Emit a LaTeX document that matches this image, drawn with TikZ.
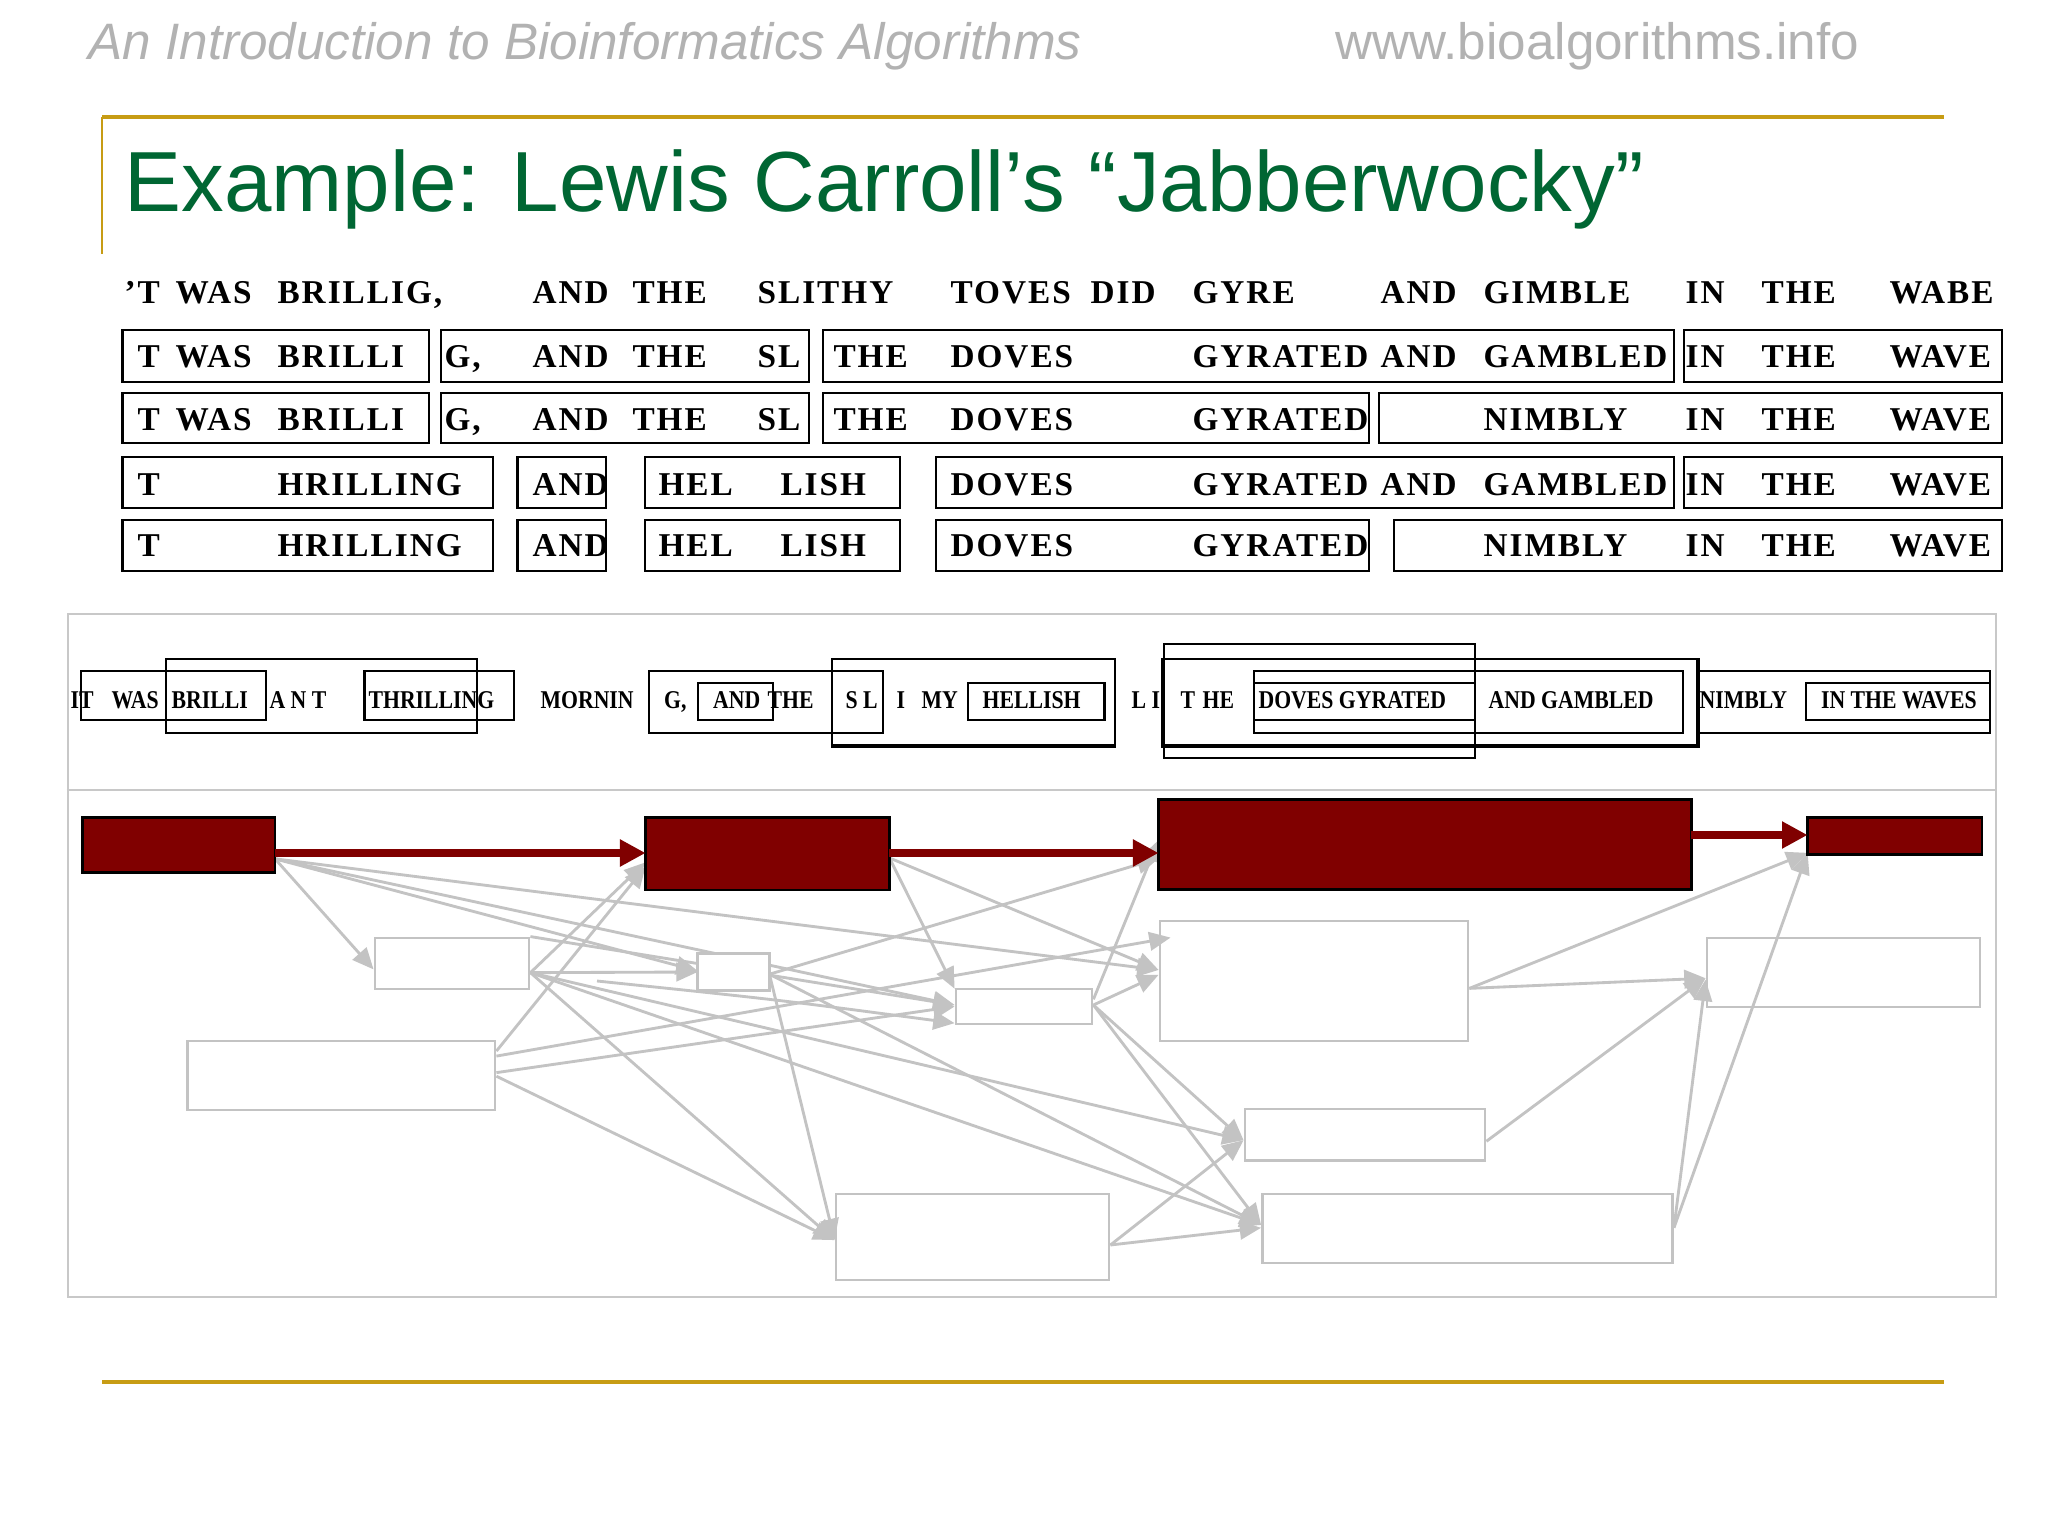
\documentclass[tikz,border=0pt]{standalone}
\usepackage{fontspec}
\setmainfont{Liberation Sans}
\newfontfamily\rowfont[LetterSpace=6]{Liberation Serif}
\newfontfamily\condfont[FakeStretch=0.85]{Liberation Serif}
\usetikzlibrary{arrows.meta,fit,calc}
\definecolor{gold}{RGB}{199,156,20}
\definecolor{titlegreen}{RGB}{0,102,51}
\definecolor{hdrgray}{RGB}{178,178,178}
\definecolor{darkred}{RGB}{128,0,0}
\definecolor{lgray}{RGB}{195,195,195}
\definecolor{pgray}{RGB}{200,200,200}
\tikzset{
  hdr/.style={anchor=base west, inner sep=0, text=hdrgray, font=\fontsize{18}{21}\selectfont},
  ttl/.style={anchor=base west, inner sep=0, text=titlegreen, font=\fontsize{30}{36}\selectfont},
  wa/.style={anchor=base west, inner sep=0, font=\rowfont\bfseries\fontsize{11.7}{13}\selectfont},
  wb/.style={anchor=base west, inner sep=0, font=\condfont\bfseries\fontsize{9}{10}\selectfont},
  rowbox/.style={draw=black, line width=1pt, inner sep=0},
  abox/.style={draw=black, line width=0.75pt, inner sep=0},
  thickedge/.style={draw=black, line width=1.4pt},
  panelbox/.style={draw=pgray, line width=1pt, inner sep=0},
  redbox/.style={draw=black, fill=darkred, line width=1pt, inner sep=0},
  graybox/.style={draw=lgray, line width=1pt, inner sep=0},
  redarrow/.style={draw=darkred, line width=2.8pt, -{Triangle[length=9pt,width=9pt]}},
  grayarrow/.style={draw=lgray, line width=1pt, -{Triangle[length=7.5pt,width=6.5pt]}},
}
\newcommand\wa[4]{\node[wa] (#1) at (#2,#3) {#4};}
\newcommand\wb[3]{\node[wb] (#1) at (#2,708) {#3};}
\newcommand\rb[5]{\node[rowbox, fit={(#2,#3) (#4,#5)}] (#1) {};}
\newcommand\ab[5]{\node[abox, fit={(#2,#3) (#4,#5)}] (#1) {};}
\begin{document}
\begin{tikzpicture}[x=0.3515625pt, y=-0.3515625pt]
\useasboundingbox (0,0) rectangle (2048,1536);
\fill[white] (0,0) rectangle (2048,1536);

% header and title
\node[hdr, font=\fontsize{18}{21}\selectfont\itshape] (hdrl) at (88,60) {An Introduction to Bioinformatics Algorithms};
\node[hdr] (hdrr) at (1335,60) {www.bioalgorithms.info};
\draw[gold, line width=1.4pt] (102,117) -- (1944,117);
\draw[gold, line width=0.7pt] (102,117) -- (102,254);
\node[ttl] (title) at (124,212) {Example: Lewis Carroll’s “Jabberwocky”};
\draw[gold, line width=1.4pt] (102,1382) -- (1944,1382);

% row 0
\wa{r0a}{124}{303.5}{’T}
\wa{r0b}{175}{303.5}{WAS}
\wa{r0c}{277}{303.5}{BRILLIG,}
\wa{r0d}{532}{303.5}{AND}
\wa{r0e}{632}{303.5}{THE}
\wa{r0f}{757}{303.5}{SLITHY}
\wa{r0g}{950}{303.5}{TOVES}
\wa{r0h}{1090}{303.5}{DID}
\wa{r0i}{1192}{303.5}{GYRE}
\wa{r0j}{1380}{303.5}{AND}
\wa{r0k}{1483}{303.5}{GIMBLE}
\wa{r0l}{1685}{303.5}{IN}
\wa{r0m}{1761}{303.5}{THE}
\wa{r0n}{1889}{303.5}{WABE}

% row 1
\rb{b11}{122.5}{330}{429}{382}
\rb{b12}{441}{330}{809}{382}
\rb{b13}{823}{330}{1674}{382}
\rb{b14}{1684}{330}{2002}{382}
\wa{r1a}{137}{368}{T}
\wa{r1b}{175}{368}{WAS}
\wa{r1c}{277}{368}{BRILLI}
\wa{r1d}{444}{368}{G,}
\wa{r1e}{532}{368}{AND}
\wa{r1f}{632}{368}{THE}
\wa{r1g}{757}{368}{SL}
\wa{r1h}{833}{368}{THE}
\wa{r1i}{950}{368}{DOVES}
\wa{r1j}{1192}{368}{GYRATED}
\wa{r1k}{1380}{368}{AND}
\wa{r1l}{1483}{368}{GAMBLED}
\wa{r1m}{1685}{368}{IN}
\wa{r1n}{1761}{368}{THE}
\wa{r1o}{1889}{368}{WAVE}

% row 2
\rb{b21}{122.5}{393}{429}{443}
\rb{b22}{441}{393}{809}{443}
\rb{b23}{823}{393}{1369}{443}
\rb{b24}{1379}{393}{2002}{443}
\wa{r2a}{137}{431}{T}
\wa{r2b}{175}{431}{WAS}
\wa{r2c}{277}{431}{BRILLI}
\wa{r2d}{444}{431}{G,}
\wa{r2e}{532}{431}{AND}
\wa{r2f}{632}{431}{THE}
\wa{r2g}{757}{431}{SL}
\wa{r2h}{833}{431}{THE}
\wa{r2i}{950}{431}{DOVES}
\wa{r2j}{1192}{431}{GYRATED}
\wa{r2k}{1483}{431}{NIMBLY}
\wa{r2l}{1685}{431}{IN}
\wa{r2m}{1761}{431}{THE}
\wa{r2n}{1889}{431}{WAVE}

% row 3
\rb{b31}{122.5}{457}{493}{508}
\rb{b32}{517.6}{457}{606}{508}
\rb{b33}{645}{457}{900}{508}
\rb{b34}{936}{457}{1674}{508}
\rb{b35}{1684}{457}{2002}{508}
\wa{r3a}{137}{496}{T}
\wa{r3b}{277}{496}{HRILLING}
\wa{r3c}{532}{496}{AND}
\wa{r3d}{658}{496}{HEL}
\wa{r3e}{780}{496}{LISH}
\wa{r3f}{950}{496}{DOVES}
\wa{r3g}{1192}{496}{GYRATED}
\wa{r3h}{1380}{496}{AND}
\wa{r3i}{1483}{496}{GAMBLED}
\wa{r3j}{1685}{496}{IN}
\wa{r3k}{1761}{496}{THE}
\wa{r3l}{1889}{496}{WAVE}

% row 4
\rb{b41}{122.5}{520}{493}{571}
\rb{b42}{517.6}{520}{606}{571}
\rb{b43}{645}{520}{900}{571}
\rb{b44}{936}{520}{1369}{571}
\rb{b45}{1394}{520}{2002}{571}
\wa{r4a}{137}{557}{T}
\wa{r4b}{277}{557}{HRILLING}
\wa{r4c}{532}{557}{AND}
\wa{r4d}{658}{557}{HEL}
\wa{r4e}{780}{557}{LISH}
\wa{r4f}{950}{557}{DOVES}
\wa{r4g}{1192}{557}{GYRATED}
\wa{r4h}{1483}{557}{NIMBLY}
\wa{r4i}{1685}{557}{IN}
\wa{r4j}{1761}{557}{THE}
\wa{r4k}{1889}{557}{WAVE}

% lower panel frame
\node[panelbox, fit={(68,614) (1996,1297)}] (panel) {};
\draw[pgray, line width=1pt] (panel.west |- 0,790) -- (panel.east |- 0,790);

% alignment strip
\ab{aA}{81.4}{670.7}{266}{720}
\ab{aB}{166}{659}{477}{733}
\ab{aC}{364.5}{670.7}{514}{720}
\ab{aD}{649}{670.7}{883}{733}
\ab{aE}{698}{682.7}{772.8}{720}
\ab{aF}{832}{659}{1115}{745}
\ab{aG}{968}{682.7}{1104.5}{720}
\ab{aH}{1164}{644}{1475}{758}
\ab{aI}{1164}{659}{1697}{745}
\ab{aJ}{1253.6}{670.7}{1683}{732.7}
\ab{aK}{1253.6}{682.7}{1475}{720}
\ab{aL}{1699}{670.7}{1990}{732.7}
\ab{aM}{1806}{682.7}{1990}{720}
\draw[thickedge] (aF.south west) -- (aF.south east);
\draw[thickedge] (aI.north west) -- (aI.south west) -- (aI.south east) -- (aI.north east);
\wb{s01}{70}{IT}
\wb{s02}{111}{WAS}
\wb{s03}{171}{BRILLI}
\wb{s04}{269}{A N T}
\wb{s05}{368}{THRILLING}
\wb{s06}{540}{MORNIN}
\wb{s07}{663.6}{G,}
\wb{s08}{712.5}{AND}
\wb{s09}{767}{THE}
\wb{s10}{845}{S L}
\wb{s11}{896}{I}
\wb{s12}{921}{MY}
\wb{s13}{982}{HELLISH}
\wb{s14}{1131}{L I}
\wb{s15}{1180}{T}
\wb{s16}{1202}{HE}
\wb{s17}{1258}{DOVES GYRATED}
\wb{s18}{1488}{AND GAMBLED}
\wb{s19}{1699}{NIMBLY}
\wb{s20}{1820.5}{IN THE WAVES}

% graph nodes
\node[redbox, fit={(84,818.6) (273.6,871.3)}] (R1) {};
\node[redbox, fit={(647,818.6) (888,888.5)}] (R2) {};
\node[redbox, fit={(1160,801) (1690,888)}] (R3) {};
\node[redbox, fit={(1809,818.6) (1980.6,853.3)}] (R4) {};
\node[graybox, fit={(375,938) (529,989)}] (G1) {};
\node[graybox, fill=white, fit={(699,955) (768,989)}] (G2) {};
\node[graybox, fit={(187.5,1041) (495,1110)}] (G3) {};
\node[graybox, fit={(836,1194) (1109,1280)}] (G4) {};
\node[graybox, fit={(956,989) (1092,1024)}] (G5) {};
\node[graybox, fit={(1160,921) (1468,1041)}] (G6) {};
\node[graybox, fit={(1707,938) (1980,1007)}] (G7) {};
\node[graybox, fit={(1245,1109) (1485,1160.5)}] (G8) {};
\node[graybox, fit={(1262.5,1194) (1672.5,1263)}] (G9) {};
\coordinate (cstart) at (597,981);

% gray edges
\draw[grayarrow] ($(R1.north east)!.75!(R1.south east)$) -- ($(G1.north west)!.61!(G1.south west)$);
\draw[grayarrow] ($(R1.north east)!.75!(R1.south east)$) -- ($(G2.north west)!.47!(G2.south west)$);
\draw[grayarrow] ($(R1.north east)!.75!(R1.south east)$) -- ($(G5.north west)!.46!(G5.south west)$);
\draw[grayarrow] ($(R1.north east)!.75!(R1.south east)$) -- ($(G6.north west)!.41!(G6.south west)$);
\draw[grayarrow] ($(G1.north east)!.67!(G1.south east)$) -- ($(G2.north west)!.5!(G2.south west)$);
\draw[grayarrow] ($(G1.north east)!.67!(G1.south east)$) -- ($(R2.north west)!.62!(R2.south west)$);
\draw[grayarrow] ($(G3.north east)!.16!(G3.south east)$) -- ($(R2.north west)!.68!(R2.south west)$);
\draw[grayarrow] (G1.north east) -- ($(G5.north west)!.46!(G5.south west)$);
\draw[grayarrow] (cstart) .. controls (780,1000) .. ($(G5.north west)!.94!(G5.south west)$);
\draw[grayarrow] ($(R2.north east)!.56!(R2.south east)$) -- ($(G5.north west)!.03!(G5.south west)$);
\draw[grayarrow] ($(G3.north east)!.46!(G3.south east)$) -- ($(G5.north west)!.5!(G5.south west)$);
\draw[grayarrow] ($(G3.north east)!.23!(G3.south east)$) -- ($(G6.north west)+(12,18)$);
\draw[grayarrow] ($(G3.north east)!.51!(G3.south east)$) -- ($(G4.north west)!.535!(G4.south west)$);
\draw[grayarrow] ($(G1.north east)!.67!(G1.south east)$) -- ($(G4.north west)!.535!(G4.south west)$);
\draw[grayarrow] ($(G2.north east)!.56!(G2.south east)$) -- ($(G4.north west)!.535!(G4.south west)$);
\draw[grayarrow] ($(G1.north east)!.67!(G1.south east)$) -- ($(G8.north west)!.6!(G8.south west)$);
\draw[grayarrow] ($(G1.north east)!.67!(G1.south east)$) -- ($(G9.north west)!.45!(G9.south west)$);
\draw[grayarrow] ($(G2.north east)!.56!(G2.south east)$) -- ($(G9.north west)!.45!(G9.south west)$);
\draw[grayarrow] ($(G2.north east)!.56!(G2.south east)$) -- ($(R3.north west)!.655!(R3.south west)$);
\draw[grayarrow] ($(G5.north east)!.31!(G5.south east)$) -- ($(R3.north west)!.45!(R3.south west)$);
\draw[grayarrow] ($(R2.north east)!.56!(R2.south east)$) -- ($(G6.north west)!.41!(G6.south west)$);
\draw[grayarrow] ($(G5.north east)!.46!(G5.south east)$) -- ($(G6.north west)!.45!(G6.south west)$);
\draw[grayarrow] ($(G5.north east)!.46!(G5.south east)$) -- ($(G8.north west)!.6!(G8.south west)$);
\draw[grayarrow] ($(G5.north east)!.46!(G5.south east)$) -- ($(G9.north west)!.45!(G9.south west)$);
\draw[grayarrow] ($(G4.north east)!.59!(G4.south east)$) -- ($(G8.north west)!.6!(G8.south west)$);
\draw[grayarrow] ($(G4.north east)!.59!(G4.south east)$) -- ($(G9.north west)!.49!(G9.south west)$);
\draw[grayarrow] ($(G6.north east)!.56!(G6.south east)$) -- ($(G7.north west)!.58!(G7.south west)$);
\draw[grayarrow] ($(G6.north east)!.56!(G6.south east)$) -- ($(R4.north west)!.95!(R4.south west)$);
\draw[grayarrow] ($(G8.north east)!.62!(G8.south east)$) -- ($(G7.north west)!.58!(G7.south west)$);
\draw[grayarrow] ($(G9.north east)!.49!(G9.south east)$) -- ($(G7.north west)!.6!(G7.south west)$);
\draw[grayarrow] ($(G9.north east)!.49!(G9.south east)$) -- ($(R4.north west)!.95!(R4.south west)$);

% redraw filled box G2 and red boxes on top of gray edges
\draw[lgray, line width=1pt, fill=white] (G2.north west) rectangle (G2.south east);
\draw[black, fill=darkred, line width=1pt] (R1.north west) rectangle (R1.south east);
\draw[black, fill=darkred, line width=1pt] (R2.north west) rectangle (R2.south east);
\draw[black, fill=darkred, line width=1pt] (R3.north west) rectangle (R3.south east);
\draw[black, fill=darkred, line width=1pt] (R4.north west) rectangle (R4.south east);

% red path
\draw[redarrow] (R1.east |- 0,853) -- (R2.west |- 0,853);
\draw[redarrow] (R2.east |- 0,853) -- (R3.west |- 0,853);
\draw[redarrow] (R3.east |- 0,835) -- (R4.west |- 0,835);
\end{tikzpicture}
\end{document}
